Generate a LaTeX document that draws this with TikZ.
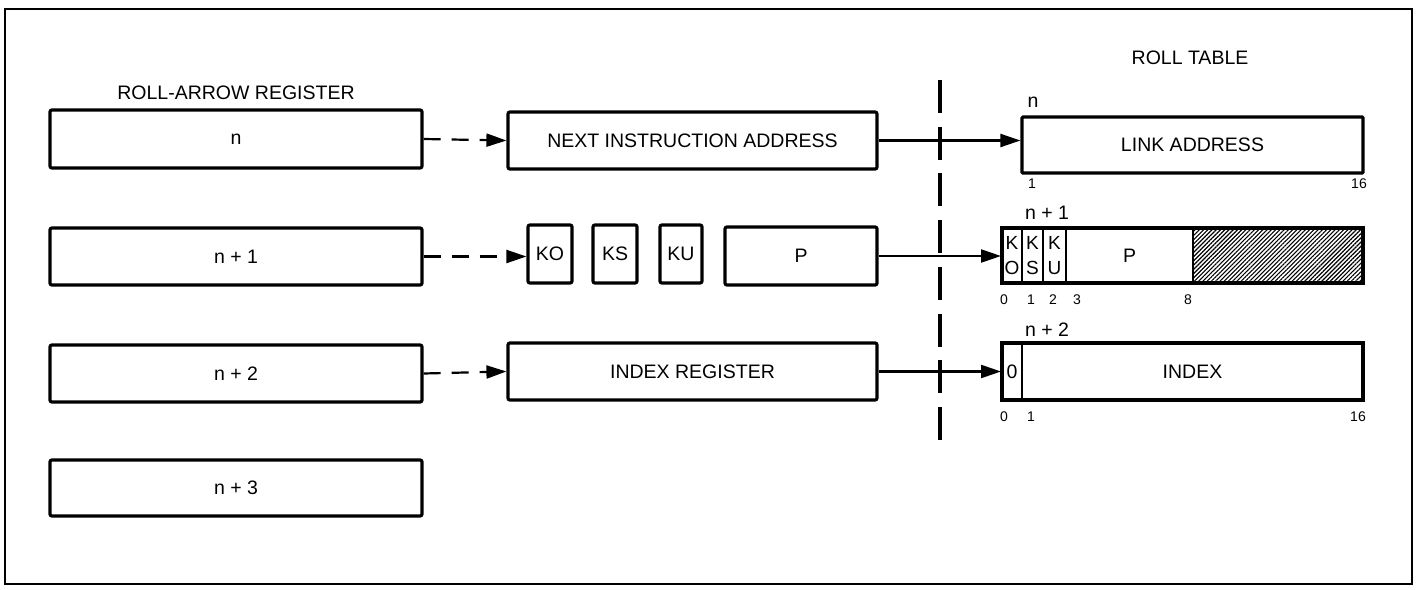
\documentclass[tikz,border=0pt]{standalone}
\usepackage{fontspec}
\setmainfont{Liberation Sans}
\usetikzlibrary{arrows.meta,patterns.meta}
\begin{document}
\begin{tikzpicture}[x=1pt,y=-1pt,
  reg/.style={draw,line width=3.2pt,rounded corners=2pt,inner sep=0pt,font=\fontsize{19.5}{22}\selectfont},
  fld/.style={draw,line width=2pt,inner sep=0pt},
  lbl/.style={font=\fontsize{19.5}{22}\selectfont,inner sep=0pt},
  num/.style={font=\fontsize{14}{16}\selectfont,inner sep=0pt},
  stk/.style={fld,align=center,font=\fontsize{19}{25}\selectfont},
  darr/.style={line width=2.2pt,dash pattern=on 17pt off 11pt,-{Triangle[length=20pt,width=13pt]}},
  sarr/.style={line width=2.2pt,-{Triangle[length=20pt,width=13pt]}}
]
\useasboundingbox (0,0) rectangle (1416,589);
\draw[line width=2pt] (5,9) rectangle (1412,584);
% left column
\node[lbl] (tl) at (236,93) {ROLL-ARROW REGISTER};
\node[reg,minimum width=372pt,minimum height=58pt] (r0) at (236,139) {n};
\node[reg,minimum width=372pt,minimum height=57pt] (r1) at (236,256.5) {n + 1};
\node[reg,minimum width=372pt,minimum height=57pt] (r2) at (236,373.5) {n + 2};
\node[reg,minimum width=372pt,minimum height=56pt] (r3) at (236,488) {n + 3};
% middle column
\node[reg,minimum width=369pt,minimum height=57pt] (nia) at (692.5,140.5) {NEXT INSTRUCTION ADDRESS};
\node[reg,minimum width=44pt,minimum height=58pt] (ko) at (550,254) {KO};
\node[reg,minimum width=44pt,minimum height=58pt] (ks) at (615,254) {KS};
\node[reg,minimum width=42pt,minimum height=58pt] (ku) at (681,254) {KU};
\node[reg,minimum width=152pt,minimum height=58pt] (p) at (801,256) {P};
\node[reg,minimum width=369pt,minimum height=57pt] (ir) at (692.5,371.5) {INDEX REGISTER};
% divider
\coordinate (dtop) at (940,80);
\coordinate (dbot) at (940,440);
\draw[line width=3.2pt,dash pattern=on 33pt off 13.7pt] (dtop) -- (dbot);
% roll table
\node[lbl] (tr) at (1190,58) {ROLL TABLE};
\node[reg,rounded corners=1pt,minimum width=341pt,minimum height=56pt] (la) at (1192.5,145) {LINK ADDRESS};
\node[lbl,anchor=south] (ln) at (1033,108) {n};
\node[num] (la1) at (1032,184) {1};
\node[num] (la16) at (1359,184) {16};
% row n+1
\node[lbl] (tn1) at (1047,213) {n + 1};
\node[inner sep=0pt,minimum width=170pt,minimum height=55pt,pattern={Lines[angle=45,distance=3pt,line width=1.1pt]}] (hatch) at (1278,255.5) {};
\node[stk,minimum width=20pt,minimum height=55pt] (fko) at (1012,255.5) {K\\O};
\node[stk,minimum width=21pt,minimum height=55pt] (fks) at (1032.5,255.5) {K\\S};
\node[stk,minimum width=23pt,minimum height=55pt] (fku) at (1054.5,255.5) {K\\U};
\node[fld,minimum width=127pt,minimum height=55pt,font=\fontsize{19.5}{22}\selectfont] (fp) at (1129.5,255.5) {P};
\draw[line width=3.4pt] (1002,228) rectangle (1363,283);
\node[num] (b0) at (1004,300) {0};
\node[num] (b1) at (1031,300) {1};
\node[num] (b2) at (1053,300) {2};
\node[num] (b3) at (1077,300) {3};
\node[num] (b8) at (1188,300) {8};
% row n+2
\node[lbl] (tn2) at (1047,330) {n + 2};
\node[fld,minimum width=20pt,minimum height=57pt,font=\fontsize{19.5}{22}\selectfont] (f0) at (1012,371.5) {0};
\node[fld,minimum width=341pt,minimum height=57pt,font=\fontsize{19.5}{22}\selectfont] (fidx) at (1192.5,371.5) {INDEX};
\draw[line width=3.4pt] (1002,343) rectangle (1363,400);
\node[num] (c0) at (1004,417) {0};
\node[num] (c1) at (1031,417) {1};
\node[num] (c16) at (1358,417) {16};
% arrows
\draw[darr] (r0.east) -- (nia.west);
\draw[darr] (r1.east) -- (r1.east -| ko.west);
\draw[darr] (r2.east) -- (ir.west);
\draw[sarr] (nia.east) -- (nia.east -| la.west);
\draw[sarr] (p.east) -- (p.east -| fko.west);
\draw[sarr] (ir.east) -- (f0.west);
\end{tikzpicture}
\end{document}
